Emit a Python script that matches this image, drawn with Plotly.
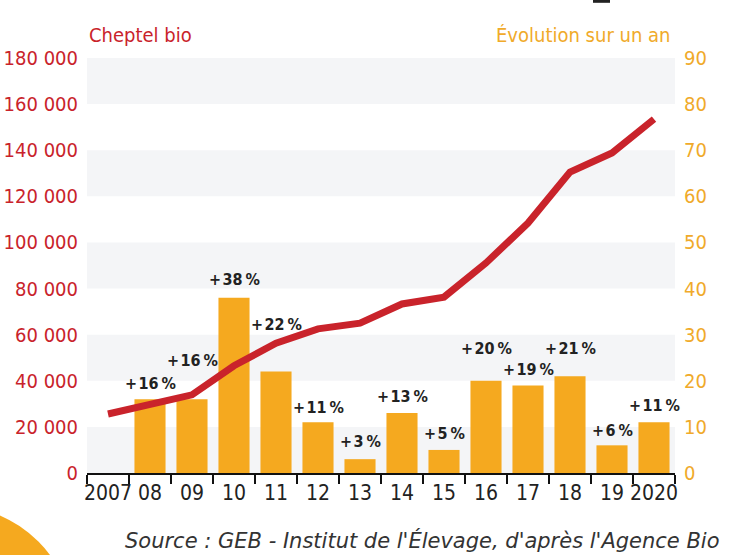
import plotly.graph_objects as go

# ---- data ----
years = ["2007", "2008", "2009", "2010", "2011", "2012", "2013",
         "2014", "2015", "2016", "2017", "2018", "2019", "2020"]
tick_labels = ["2007", "08", "09", "10", "11", "12", "13",
               "14", "15", "16", "17", "18", "19", "2020"]
cheptel = [25600, 29800, 33900, 46500, 56300, 62500, 65000,
           73300, 76300, 91100, 108400, 130500, 138800, 153500]
evolution = [None, 16, 16, 38, 22, 11, 3, 13, 5, 20, 19, 21, 6, 11]
evolution_labels = ["", "+\u200a16\u2009%", "+\u200a16\u2009%", "+\u200a38\u2009%",
                    "+\u200a22\u2009%", "+\u200a11\u2009%", "+\u200a3\u2009%",
                    "+\u200a13\u2009%", "+\u200a5\u2009%", "+\u200a20\u2009%",
                    "+\u200a19\u2009%", "+\u200a21\u2009%", "+\u200a6\u2009%",
                    "+\u200a11\u2009%"]
left_ticks = [0, 20000, 40000, 60000, 80000, 100000, 120000, 140000, 160000, 180000]
right_ticks = [0, 10, 20, 30, 40, 50, 60, 70, 80, 90]

# label lift above bar top (px), layout only
label_lift = [0, 16, 39, 18, 47, 15, 18, 17, 16, 32, 16, 28, 15, 17]

RED = "#c9232b"
ORANGE = "#f5a91f"
ORANGE_TXT = "#f0aa2a"
COND = "DejaVu Sans Condensed, DejaVu Sans, sans-serif"

fig = go.Figure()

fig.add_trace(go.Bar(
    x=years, y=evolution, marker_color=ORANGE, marker_line_width=0,
    width=0.74, yaxis="y", hoverinfo="skip"))

fig.add_trace(go.Scatter(
    x=years, y=cheptel, mode="lines", yaxis="y2",
    line=dict(color=RED, width=7), hoverinfo="skip"))

# bar labels (x given as category index)
for i, (v, lab, lift) in enumerate(zip(evolution, evolution_labels, label_lift)):
    if v is None:
        continue
    fig.add_annotation(x=i, y=v, xref="x", yref="y", text="<b>" + lab + "</b>",
                       showarrow=False, yanchor="middle", yshift=lift,
                       font=dict(family=COND, size=16, color="#222222"))

shapes = []
# alternating background bands, from the left-axis ticks
for i in range(0, len(left_ticks) - 1, 2):
    shapes.append(dict(type="rect", xref="paper", yref="y2", x0=0, x1=1,
                       y0=left_ticks[i], y1=left_ticks[i + 1],
                       fillcolor="#f4f5f7", line_width=0, layer="below"))
# decorative orange disc bottom-left
shapes.append(dict(type="circle", xref="paper", yref="paper",
                   x0=-0.4456, x1=-0.0204, y0=-0.6795, y1=-0.0771,
                   fillcolor=ORANGE, line_width=0, layer="above"))
# small dark mark at top edge
shapes.append(dict(type="rect", xref="paper", yref="paper",
                   x0=0.8605, x1=0.8895, y0=1.133, y1=1.145,
                   fillcolor="#222222", line_width=0))

fig.update_layout(
    template="none",
    width=747, height=555,
    margin=dict(l=87, r=72, t=58, b=82),
    paper_bgcolor="white", plot_bgcolor="white",
    showlegend=False, bargap=0.26,
    separators=", ",
    shapes=shapes,
    xaxis=dict(type="category", range=[-0.5, 13.5], automargin=False,
               tickmode="array", tickvals=years, ticktext=tick_labels,
               tickangle=0,
               tickson="boundaries", ticks="outside", ticklen=9, tickwidth=1.5,
               tickcolor="#111111", showline=True, linecolor="#111111", linewidth=2,
               showgrid=False, zeroline=False,
               tickfont=dict(family=COND, size=21, color="#222222")),
    yaxis=dict(side="right", range=[0, 90], tickvals=right_ticks, automargin=False,
               showgrid=False, zeroline=False, showline=False, ticks="",
               ticklabelstandoff=8,
               tickfont=dict(family=COND, size=20, color=ORANGE_TXT)),
    yaxis2=dict(side="left", overlaying="y", range=[0, 180000], tickvals=left_ticks,
                automargin=False, ticklabelstandoff=8,
                tickformat=",d", showgrid=False, zeroline=False, showline=False,
                ticks="", tickfont=dict(family=COND, size=20, color=RED)),
)

fig.add_annotation(xref="paper", yref="paper", x=0.0, y=1.0, yshift=23,
                   xanchor="left", yanchor="middle", showarrow=False,
                   text="Cheptel bio", font=dict(family=COND, size=20, color=RED))
fig.add_annotation(xref="paper", yref="paper", x=0.995, y=1.0, yshift=23,
                   xanchor="right", yanchor="middle", showarrow=False,
                   text="Évolution sur un an", font=dict(family=COND, size=20, color=ORANGE_TXT))
fig.add_annotation(xref="paper", yref="paper", x=1.0799, y=0, yshift=-67,
                   xanchor="right", yanchor="middle", showarrow=False,
                   text="<i>Source : GEB - Institut de l'Élevage, d'après l'Agence Bio</i>",
                   font=dict(family="DejaVu Sans, sans-serif", size=21, color="#333333"))

fig.write_html("out.html",
               config={"displayModeBar": False, "staticPlot": True},
               post_script="document.body.style.margin='0';document.body.style.overflow='hidden';")
